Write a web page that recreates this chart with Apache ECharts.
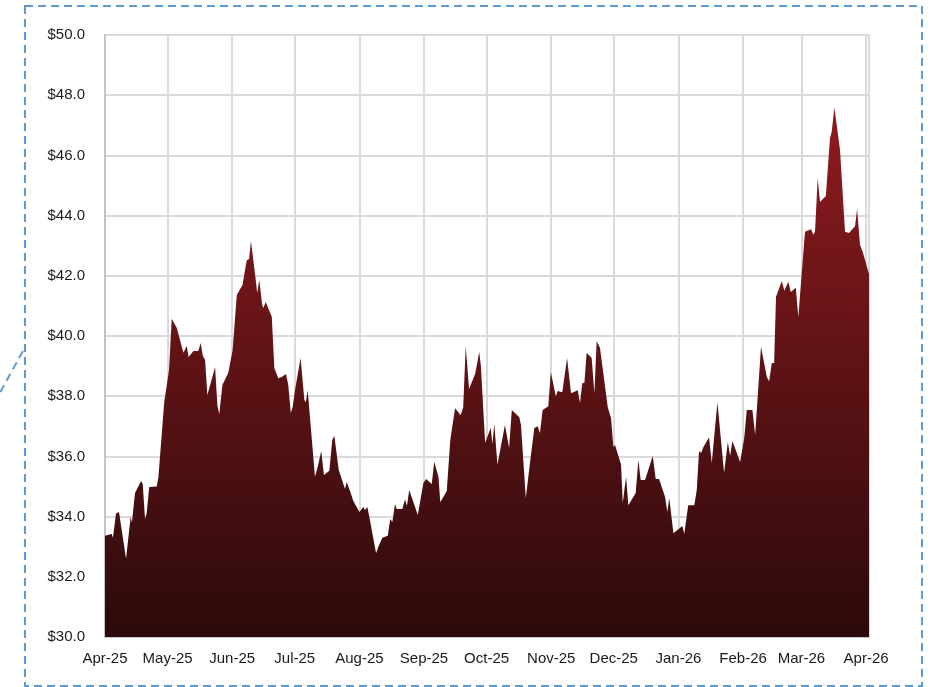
<!DOCTYPE html>
<html>
<head>
<meta charset="utf-8">
<title>Price chart</title>
<script src="https://cdn.jsdelivr.net/npm/echarts@6.0.0/dist/echarts.min.js"></script>
<style>
  html, body { margin: 0; padding: 0; background: #fff; }
  #J_chartAreaBox { width: 933px; height: 687px; }
</style>
</head>
<body>
<div id="J_chartAreaBox"></div>
<script>
  // day offsets counted from 1 Apr 2025
  var days = [
    0.0, 3.2, 3.8, 5.3, 6.7, 10.1, 12.3, 12.9, 14.4, 17.3, 18.1, 19.2, 20.0, 21.2, 24.8, 25.6,
    28.4, 30.7, 32.0, 34.4, 37.6, 39.2, 40.1, 42.4, 44.7, 45.9, 46.9, 48.0, 49.1, 52.8, 53.2, 53.9,
    54.8, 56.3, 59.1, 60.0, 61.2, 63.2, 66.0, 67.3, 68.0, 69.1, 70.0, 72.3, 73.0, 74.0, 75.4, 75.9,
    77.1, 80.0, 81.2, 83.1, 84.7, 86.8, 87.9, 89.1, 90.0, 91.1, 93.8, 95.6, 96.3, 97.2, 98.0,
    100.7, 102.0, 102.8, 103.7, 105.0, 107.6, 109.0, 110.0, 110.9, 112.1, 115.1, 115.9, 117.5, 119.1,
    122.0, 123.9, 124.7, 125.8, 126.6, 130.0, 131.1, 133.0, 135.6, 136.8, 137.8, 139.1, 139.9,
    142.6, 143.9, 144.8, 145.9, 150.0, 152.7, 154.0, 156.7, 157.9, 159.9, 160.8, 163.9, 165.6,
    167.9, 170.6, 171.8, 173.0, 174.6, 177.5, 179.5, 180.3, 182.3, 185.0, 185.8, 186.7, 188.2,
    191.8, 193.8, 195.1, 195.8, 198.7, 199.5, 201.8, 203.8, 205.9, 207.5, 208.6, 209.9, 212.6,
    213.8, 216.2, 217.1, 219.3, 221.6, 223.5, 226.7, 227.8, 228.9, 229.9, 231.0, 233.4, 234.7,
    235.8, 237.4, 241.1, 242.7, 243.8, 244.6, 247.5, 248.3, 249.9, 251.0, 254.5, 255.8, 256.9,
    259.0, 262.7, 264.1, 265.7, 268.6, 269.7, 270.6, 272.6, 273.4, 276.9, 277.8, 279.7, 282.6,
    283.8, 284.9, 285.9, 287.0, 289.7, 291.0, 293.7, 296.9, 298.7, 299.8, 300.9, 304.6, 306.5,
    307.8, 310.5, 311.8, 314.6, 317.4, 318.5, 319.8, 320.9, 321.8, 324.6, 325.8, 327.7, 328.9,
    331.3, 332.5, 335.7, 338.6, 339.7, 340.5, 341.8, 342.9, 345.7, 347.7, 348.5, 349.8, 352.5,
    354.9, 356.8, 359.7, 360.7, 362.1, 363.4, 366.4
  ]
  var prices = [
    33.36, 33.42, 33.30, 34.10, 34.15, 32.60, 34.00, 33.80, 34.78, 35.18, 35.08, 33.92, 34.12, 34.98, 35.00, 35.30,
    37.80, 38.87, 40.57, 40.27, 39.44, 39.67, 39.30, 39.50, 39.50, 39.77, 39.34, 39.20, 38.04, 38.97, 39.00, 37.70,
    37.40, 38.37, 38.77, 38.74, 39.53, 41.36, 41.70, 42.26, 42.52, 42.56, 43.16, 41.86, 41.43, 41.86, 41.03, 40.93,
    41.13, 40.63, 38.94, 38.60, 38.64, 38.74, 38.37, 37.44, 37.64, 38.20, 39.27, 37.87, 37.80, 38.20, 38.24,
    35.32, 35.65, 35.68, 36.18, 35.38, 35.52, 36.55, 36.68, 36.65, 35.55, 34.92, 35.15, 34.85, 34.52,
    34.15, 34.32, 34.22, 34.32, 34.05, 32.78, 33.00, 33.30, 33.36, 33.92, 33.82, 34.42, 34.25,
    34.25, 34.58, 34.35, 34.88, 34.05, 35.12, 35.25, 35.08, 35.82, 35.32, 34.48, 34.85, 36.55,
    37.60, 37.37, 37.64, 39.67, 38.24, 38.74, 39.47, 38.97, 36.45, 36.94, 36.40, 37.08, 35.72,
    37.04, 36.28, 37.54, 37.57, 37.30, 37.04, 34.62, 35.78, 36.94, 37.00, 36.78, 37.54, 37.67,
    38.80, 38.00, 38.17, 38.13, 39.27, 38.10, 38.20, 37.77, 38.44, 38.44, 39.44, 39.27, 38.10,
    39.83, 39.60, 37.64, 37.27, 36.31, 36.38, 35.72, 34.45, 35.32, 34.38, 34.78, 35.88, 35.22,
    35.22, 36.01, 35.25, 35.25, 34.65, 34.15, 34.62, 33.45, 33.45, 33.69, 33.42, 34.38, 34.38,
    34.88, 36.18, 36.11, 36.31, 36.64, 35.78, 37.80, 35.45, 36.48, 36.01, 36.51, 35.81, 36.58,
    37.54, 37.54, 36.71, 39.64, 38.64, 38.50, 39.10, 39.10, 41.30, 41.83, 41.50, 41.80, 41.46,
    41.60, 40.63, 43.46, 43.55, 43.36, 43.46, 45.25, 44.45, 44.65, 46.58, 46.78, 47.60, 46.18,
    43.46, 43.42, 43.65, 44.22, 43.02, 42.79, 42.06
  ]
  var monthNames = ['Jan', 'Feb', 'Mar', 'Apr', 'May', 'Jun', 'Jul', 'Aug', 'Sep', 'Oct', 'Nov', 'Dec']
  var yMin = 30
  var yMax = 50
  var yStep = 2

  var DAY = 86400000
  var start = new Date(2025, 3, 1).getTime()
  var seriesData = days.map(function (d, i) {
    return [start + d * DAY, prices[i]]
  })

  var labelFont = 'Arial, "Liberation Sans", sans-serif'

  var option = {
    backgroundColor: '#fff',
    animation: false,
    grid: {
      left: 105,
      right: 64,
      top: 35,
      bottom: 50,
      show: true,
      borderColor: '#cfcfcf',
      borderWidth: 2
    },
    xAxis: {
      type: 'time',
      min: start,
      max: start + days[days.length - 1] * DAY,
      splitNumber: 12,
      minInterval: 28 * DAY,
      maxInterval: 31 * DAY,
      axisLine: { show: true, lineStyle: { color: '#c4c4c4', width: 2 } },
      axisTick: { show: false },
      splitLine: { show: true, lineStyle: { color: '#dadada', width: 2 } },
      axisLabel: {
        color: '#1a1a1a',
        fontSize: 15,
        fontFamily: labelFont,
        margin: 14,
        hideOverlap: false,
        formatter: function (value) {
          var d = new Date(value)
          return monthNames[d.getMonth()] + '-' + String(d.getFullYear()).slice(2)
        }
      }
    },
    yAxis: {
      type: 'value',
      min: yMin,
      max: yMax,
      interval: yStep,
      axisLine: { show: true, lineStyle: { color: '#c4c4c4', width: 2 } },
      axisTick: { show: false },
      splitLine: { show: true, lineStyle: { color: '#dadada', width: 2 } },
      axisLabel: {
        color: '#1a1a1a',
        fontSize: 15,
        fontFamily: labelFont,
        margin: 20,
        formatter: function (v) { return '$' + v.toFixed(1) }
      }
    },
    series: [{
      type: 'line',
      data: seriesData,
      symbol: 'none',
      lineStyle: { width: 0 },
      areaStyle: {
        opacity: 1,
        color: new echarts.graphic.LinearGradient(0, 0, 0, 1, [
          { offset: 0, color: '#8f1b1f' },
          { offset: 1, color: '#2c0a0b' }
        ])
      }
    }],
    // dashed callout frame
    graphic: [
      {
        type: 'rect',
        shape: { x: 25, y: 6, width: 897, height: 680 },
        style: { fill: 'none', stroke: '#5b9bd5', lineWidth: 2, lineDash: [8, 5] },
        silent: true
      },
      {
        type: 'polyline',
        shape: { points: [[23, 351], [-3, 398]] },
        style: { stroke: '#5b9bd5', lineWidth: 2, lineDash: [8, 5] },
        silent: true
      }
    ]
  }

  var chartArea = echarts.init(document.getElementById('J_chartAreaBox'))
  chartArea.setOption(option)
</script>
</body>
</html>
